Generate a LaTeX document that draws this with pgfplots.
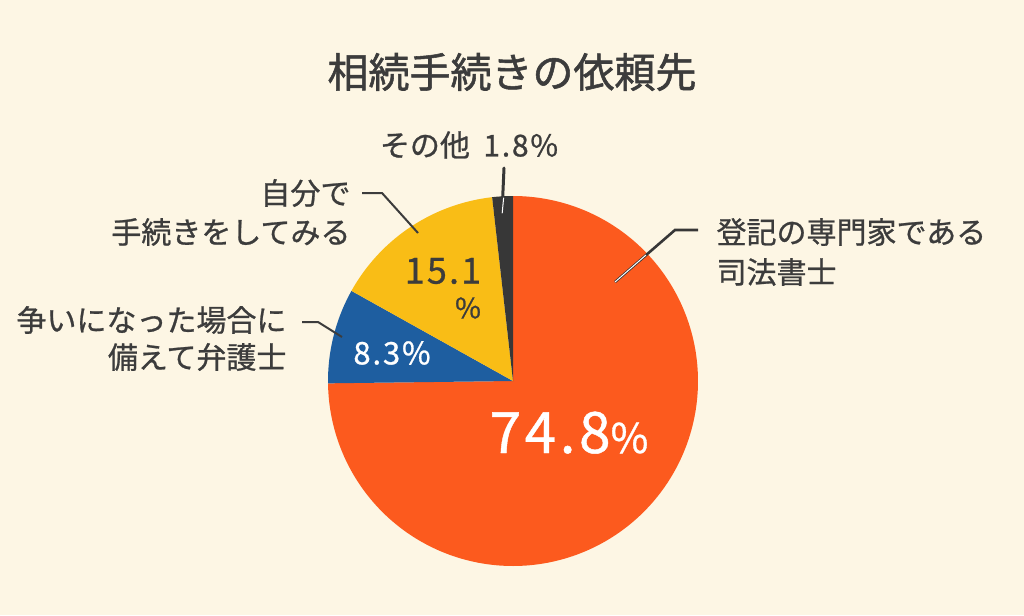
\documentclass[border=0pt]{standalone}
\usepackage{pgfplots}
\pgfplotsset{compat=1.18}
\usepackage{fontspec}
\setmainfont{Noto Sans CJK JP}[FakeBold=0.8]
\newfontfamily\numfont{Noto Sans CJK JP}[FakeBold=0.8, LetterSpace=6]
\newfontfamily\titlefont{Noto Sans CJK JP}[FakeBold=1.3]
\definecolor{bg}{RGB}{253,246,228}
\definecolor{cOrange}{RGB}{252,90,30}
\definecolor{cBlue}{RGB}{30,94,160}
\definecolor{cYellow}{RGB}{249,189,22}
\definecolor{cDark}{RGB}{55,55,55}
\definecolor{txt}{RGB}{60,60,60}
% slice values (percent), clockwise from 12 o'clock
\def\vA{74.8}\def\vB{8.3}\def\vC{15.1}\def\vD{1.8}
\def\cx{513}\def\cy{381}\def\rr{185}
\begin{document}
\begin{tikzpicture}
\begin{axis}[
  scale only axis, width=1024pt, height=615pt,
  xmin=0, xmax=1024, ymin=0, ymax=615, y dir=reverse,
  hide axis, clip=false]
\fill[bg] (axis cs:0,0) rectangle (axis cs:1024,615);
\pgfmathsetmacro{\aA}{90}
\pgfmathsetmacro{\aB}{\aA-3.6*\vA}
\pgfmathsetmacro{\aC}{\aB-3.6*\vB}
\pgfmathsetmacro{\aD}{\aC-3.6*\vC}
\pgfmathsetmacro{\aE}{\aD-3.6*\vD}
\addplot[draw=none, fill=cOrange, domain=\aA:\aB, samples=200] ({\cx+\rr*cos(x)},{\cy-\rr*sin(x)}) -- (axis cs:\cx,\cy) -- cycle;
\addplot[draw=none, fill=cBlue, domain=\aB:\aC, samples=40] ({\cx+\rr*cos(x)},{\cy-\rr*sin(x)}) -- (axis cs:\cx,\cy) -- cycle;
\addplot[draw=none, fill=cYellow, domain=\aC:\aD, samples=60] ({\cx+\rr*cos(x)},{\cy-\rr*sin(x)}) -- (axis cs:\cx,\cy) -- cycle;
\addplot[draw=none, fill=cDark, domain=\aD:\aE, samples=20] ({\cx+\rr*cos(x)},{\cy-\rr*sin(x)}) -- (axis cs:\cx,\cy) -- cycle;
% title
\node[txt, font=\titlefont\fontsize{41}{45}\selectfont] at (axis cs:512,72) {相続手続きの依頼先};
% leader lines
\draw[cDark, line width=3pt, line cap=round] (axis cs:504,168) -- (axis cs:502,213);
\draw[white, line width=1pt, line cap=round] (axis cs:503.6,198) -- (axis cs:502.2,213);
\draw[txt, line width=2pt] (axis cs:362,193) -- (axis cs:382,193) -- (axis cs:418,233);
\draw[txt, line width=2pt] (axis cs:302,322) -- (axis cs:318,322) -- (axis cs:342,337);
\draw[cDark, line width=2.6pt] (axis cs:698,230) -- (axis cs:675,230) -- (axis cs:615,282);
\draw[white, line width=1pt] (axis cs:646,255) -- (axis cs:615,282);
% outside labels
\node[txt, font=\fontsize{30}{34}\selectfont, anchor=center] at (axis cs:469,145) {その他\ \ {\numfont 1.8\%}};
\node[txt, font=\fontsize{30}{34}\selectfont, anchor=east] at (axis cs:354,193) {自分で};
\node[txt, font=\fontsize{30}{34}\selectfont, anchor=east] at (axis cs:354,232) {手続きをしてみる};
\node[txt, font=\fontsize{30}{34}\selectfont, anchor=east] at (axis cs:290,320) {争いになった場合に};
\node[txt, font=\fontsize{30}{34}\selectfont, anchor=east] at (axis cs:290,357) {備えて弁護士};
\node[txt, font=\fontsize{30}{34}\selectfont, anchor=west] at (axis cs:713,232) {登記の専門家である};
\node[txt, font=\fontsize{30}{34}\selectfont, anchor=west] at (axis cs:713,272) {司法書士};
% inside labels
\node[white, anchor=base, inner sep=0pt] at (axis cs:569,453) {\numfont\fontsize{57}{60}\selectfont 74.8\fontsize{41}{44}\selectfont\%};
\node[white, anchor=center, font=\numfont\fontsize{31}{34}\selectfont] at (axis cs:392,353) {8.3\%};
\node[txt, anchor=center, font=\numfont\fontsize{36}{40}\selectfont] at (axis cs:443,271) {15.1};
\node[txt, anchor=center, font=\numfont\fontsize{28}{32}\selectfont] at (axis cs:468,308) {\%};
\end{axis}
\end{tikzpicture}
\end{document}
